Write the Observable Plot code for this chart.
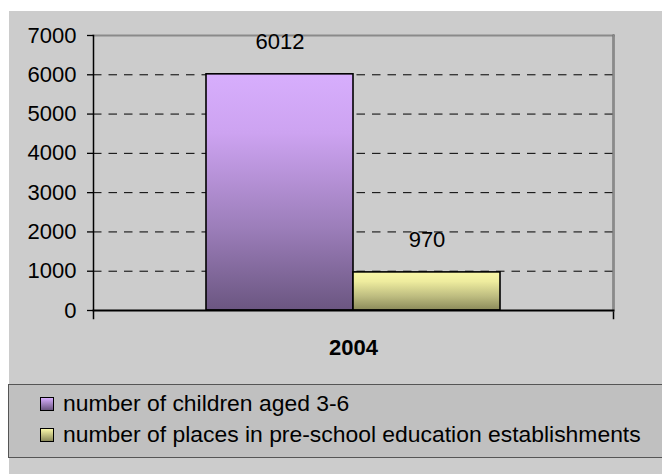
<!DOCTYPE html>
<html>
<head>
<meta charset="utf-8">
<script src="https://cdn.jsdelivr.net/npm/d3@7"></script>
<script src="https://cdn.jsdelivr.net/npm/@observablehq/plot@0.6"></script>
<style>
  html, body { margin: 0; padding: 0; background: #fff; }
  #wrap { position: relative; width: 662px; height: 474px; overflow: hidden; font-family: "Liberation Sans", Arial, sans-serif; }
  #bg { position: absolute; left: 9px; top: 11px; right: 0; bottom: 0; background: #cccccc; }
  #chart { position: absolute; left: 0; top: 0; }
  #legend { position: absolute; left: 8px; top: 384px; width: 700px; height: 74px; background: #c0c0c0; border: 1.5px solid #555; box-sizing: border-box; padding-top: 3px; }
  .item { height: 31px; line-height: 31px; font-size: 22.9px; color: #000; position: relative; padding-left: 54px; white-space: nowrap; }
  .sw { position: absolute; left: 31px; top: 9px; width: 14px; height: 14px; box-sizing: border-box; border: 1.5px solid #000; }
</style>
</head>
<body>
<div id="wrap">
  <div id="bg"></div>
  <div id="chart"></div>
  <div id="legend"></div>
</div>
<script>
const years = ["2004"];
const series = ["number of children aged 3-6", "number of places in pre-school education establishments"];
const values = [6012, 970];
const yTicks = [0, 1000, 2000, 3000, 4000, 5000, 6000, 7000];
const gradients = [["#d7aefd", "#cda3f1", "#9c7eba", "#6b5681"], ["#f9f7a8", "#eeec9e", "#bcbb7f", "#8b8a5a"]];
const gradIds = ["gPurple", "gYellow"];

const data = series.map((s, i) => ({year: years[0], series: s, value: values[i]}));
const font = '"Liberation Sans", Arial, sans-serif';

const plot = Plot.plot({
  width: 662,
  height: 474,
  marginLeft: 93,
  marginRight: 49,
  marginTop: 35,
  marginBottom: 164,
  style: {background: "transparent", fontFamily: font, fontSize: "22px", color: "#000", overflow: "visible"},
  fx: {domain: years, padding: 0, label: null, axis: null},
  x: {domain: series, paddingInner: 0, paddingOuter: 0.757, axis: null},
  y: {domain: [0, 7000], label: null},
  color: {domain: series, range: gradIds.map(id => `url(#${id})`)},
  marks: [
    Plot.gridY(yTicks.filter(t => t > 0 && t < 7000), {stroke: "#000", strokeOpacity: 1, strokeWidth: 1, strokeDasharray: "8.5,7"}),
    Plot.barY(data, {fx: "year", x: "series", y: "value", fill: "series", stroke: "#000", strokeWidth: 1.6}),
    Plot.frame({anchor: "top", stroke: "#8a8a8a", strokeWidth: 2.2}),
    Plot.frame({anchor: "right", stroke: "#000", strokeWidth: 1.5, insetBottom: -8}),
    Plot.frame({anchor: "right", stroke: "#8a8a8a", strokeWidth: 2.2}),
    Plot.frame({anchor: "left", stroke: "#000", strokeWidth: 1.5, insetBottom: -8}),
    Plot.frame({anchor: "bottom", stroke: "#000", strokeWidth: 1.8}),
    Plot.axisY(yTicks, {tickSize: 6, tickPadding: 11, stroke: "#000", strokeWidth: 1.3, fontSize: 22, label: null, tickFormat: d => String(d)}),
    Plot.axisFx(years, {anchor: "bottom", tickSize: 0, tickPadding: 29, fontSize: 22, fontWeight: "bold", label: null}),
    Plot.text(data, {fx: "year", x: "series", y: "value", text: d => String(d.value), dy: -32, fontSize: 22, fill: "#000", lineAnchor: "middle"})
  ]
});

const defs = gradIds.map((id, i) => {
  const st = gradients[i];
  const offs = [0, 0.25, 0.65, 1];
  return `<linearGradient id="${id}" x1="0" y1="0" x2="0" y2="1">${st.map((c, j) => `<stop offset="${offs[j]}" stop-color="${c}"/>`).join("")}</linearGradient>`;
}).join("");
plot.insertAdjacentHTML("afterbegin", `<defs>${defs}</defs>`);
document.getElementById("chart").appendChild(plot);

const legend = document.getElementById("legend");
series.forEach((s, i) => {
  const st = gradients[i];
  const item = document.createElement("div");
  item.className = "item";
  const sw = document.createElement("span");
  sw.className = "sw";
  sw.style.background = `linear-gradient(to bottom, ${st[0]}, ${st[3]})`;
  item.appendChild(sw);
  item.appendChild(document.createTextNode(s));
  legend.appendChild(item);
});
</script>
</body>
</html>
